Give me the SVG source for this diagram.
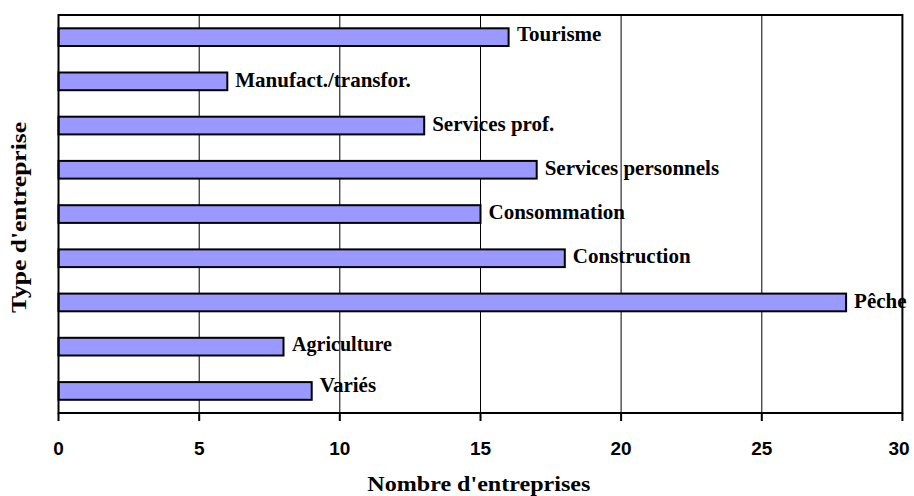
<svg xmlns="http://www.w3.org/2000/svg" width="914" height="496" viewBox="0 0 914 496">
<style>
.grid{stroke:#000;stroke-width:1;fill:none}
.frame{stroke:#000;stroke-width:2;fill:none}
.bar{fill:#9999FF;stroke:#000;stroke-width:2}
.lbl{font-family:"Liberation Serif","Times New Roman",serif;font-weight:bold;font-size:21px;fill:#000}
.tick{font-family:"Liberation Sans",Arial,sans-serif;font-weight:bold;font-size:19px;fill:#000;text-anchor:middle}
.title{font-family:"Liberation Serif","Times New Roman",serif;font-weight:bold;font-size:22px;fill:#000}
</style>
<rect width="914" height="496" fill="#fff"/>
<g id="labels">
<text class="lbl" x="517" y="41">Tourisme</text>
<text class="lbl" x="235.3" y="86.8">Manufact./transfor.</text>
<text class="lbl" x="432.2" y="131">Services prof.</text>
<text class="lbl" x="544.7" y="175.2">Services personnels</text>
<text class="lbl" x="488.5" y="219.2">Consommation</text>
<text class="lbl" x="572.8" y="263.4">Construction</text>
<text class="lbl" x="854.1" y="307.9">Pêche</text>
<text class="lbl" x="292" y="351.3" textLength="100" lengthAdjust="spacingAndGlyphs">Agriculture</text>
<text class="lbl" x="319.7" y="392.4">Variés</text>
</g>
<g id="gridlines">
<line class="grid" x1="199.2" y1="15" x2="199.2" y2="413"/>
<line class="grid" x1="339.8" y1="15" x2="339.8" y2="413"/>
<line class="grid" x1="480.5" y1="15" x2="480.5" y2="413"/>
<line class="grid" x1="621.1" y1="15" x2="621.1" y2="413"/>
<line class="grid" x1="761.8" y1="15" x2="761.8" y2="413"/>
</g>
<g id="bar-tourisme"><rect class="bar" x="58.5" y="28.3" width="450.1" height="17.7"/></g>
<g id="bar-manufact"><rect class="bar" x="58.5" y="72.5" width="168.8" height="17.7"/></g>
<g id="bar-services-prof"><rect class="bar" x="58.5" y="116.7" width="365.7" height="17.7"/></g>
<g id="bar-services-personnels"><rect class="bar" x="58.5" y="160.9" width="478.2" height="17.7"/></g>
<g id="bar-consommation"><rect class="bar" x="58.5" y="205.2" width="422" height="17.7"/></g>
<g id="bar-construction"><rect class="bar" x="58.5" y="249.4" width="506.3" height="17.7"/></g>
<g id="bar-peche"><rect class="bar" x="58.5" y="293.6" width="787.6" height="17.7"/></g>
<g id="bar-agriculture"><rect class="bar" x="58.5" y="337.8" width="225" height="17.7"/></g>
<g id="bar-varies"><rect class="bar" x="58.5" y="382.1" width="253.2" height="17.7"/></g>
<g id="axes">
<rect class="frame" x="58.5" y="15" width="843.9" height="398"/>
<path class="frame" d="M58.5 413v8M199.2 413v8M339.8 413v8M480.5 413v8M621.1 413v8M761.8 413v8M902.4 413v8"/>
<text class="tick" x="58.5" y="455">0</text>
<text class="tick" x="199.2" y="455">5</text>
<text class="tick" x="339.8" y="455">10</text>
<text class="tick" x="480.5" y="455">15</text>
<text class="tick" x="621.1" y="455">20</text>
<text class="tick" x="761.8" y="455">25</text>
<text class="tick" x="899" y="455">30</text>
</g>
<g id="axis-titles">
<text class="title" x="367.3" y="491" textLength="223" lengthAdjust="spacingAndGlyphs">Nombre d'entreprises</text>
<text class="title" transform="translate(26,313) rotate(-90)" x="0" y="0" textLength="191" lengthAdjust="spacingAndGlyphs">Type d'entreprise</text>
</g>
</svg>
